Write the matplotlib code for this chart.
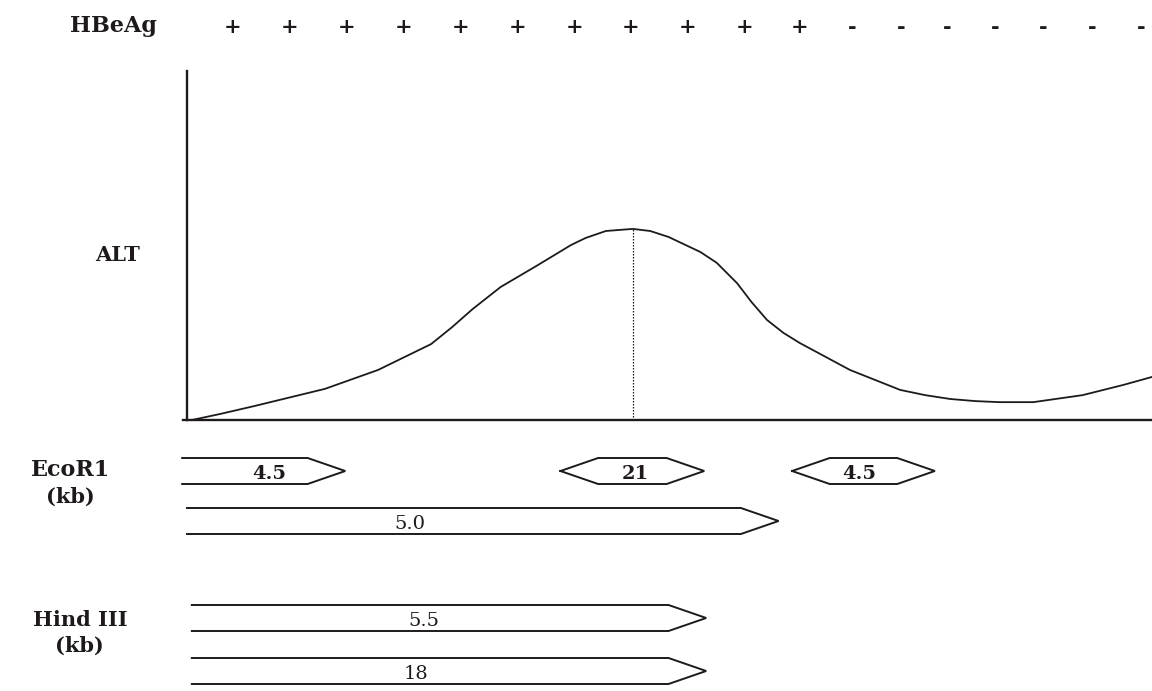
import matplotlib
matplotlib.use("Agg")
import matplotlib.pyplot as plt

# ALT course over time (arbitrary units, axis runs 0..100 both ways)
alt_time = [0.5, 3.4, 7.0, 14.3, 19.8, 25.3, 27.5, 29.6, 32.5, 36.2, 39.8, 41.3,
            43.4, 46.2, 48.0, 49.9, 53.2, 54.9, 57.0, 58.5, 60.1, 61.8, 63.5,
            68.7, 73.9, 76.5, 79.1, 81.7, 84.2, 87.7, 92.8, 97.0, 100.0]
alt_level = [0.0, 1.7, 4.0, 8.9, 14.3, 21.7, 26.6, 31.7, 38.0, 44.0, 50.0, 52.0,
             54.0, 54.6, 54.0, 52.3, 48.0, 44.9, 39.1, 33.7, 28.6, 24.9, 22.0,
             14.3, 8.6, 7.1, 6.0, 5.4, 5.1, 5.1, 7.1, 10.0, 12.3]
peak_time = 46.2
peak_level = 54.6

# HBeAg status along the time axis
hbeag_time = [4.7, 10.6, 16.5, 22.4, 28.3, 34.3, 40.2, 46.0, 51.9, 57.8, 63.5,
              68.9, 74.0, 78.8, 83.8, 88.7, 93.8, 98.9]
hbeag_sign = ["+"] * 11 + ["-"] * 7

# restriction fragments (start, end on the time axis, label, label spot)
eco_row1_start = [-0.5, 38.7, 62.7]
eco_row1_end = [16.4, 53.6, 77.5]
eco_row1_label = ["4.5", "21", "4.5"]
eco_row1_label_t = [8.5, 46.5, 69.7]
eco_row1_shape = ["arrow", "hexagon", "hexagon"]
eco_row2_start = [0.0]
eco_row2_end = [61.3]
eco_row2_label = ["5.0"]
eco_row2_label_t = [23.1]
hind_start = [0.5, 0.5]
hind_end = [53.8, 53.8]
hind_label = ["5.5", "18"]
hind_label_t = [24.5, 23.7]

INK = "#1e1a1b"
SERIF = ["DejaVu Serif"]

# page layout: pixel -> axis units
X0, SX = 187.0, 9.65
Y0, SY = 420.0, 3.5


def tx(px):
    return (px - X0) / SX


def ty(py):
    return (Y0 - py) / SY


TIP = 3.9          # arrow tip length in time units
HALF = 13 / SY     # half height of a fragment box


def draw_fragment(ax, start, end, yc, shape, label, label_t, bold):
    top, bot = yc + HALF, yc - HALF
    if shape == "arrow":
        xs = [start, end - TIP, end, end - TIP, start]
        ys = [top, top, yc, bot, bot]
    else:
        xs = [start, start + TIP, end - TIP, end, end - TIP, start + TIP, start]
        ys = [yc, top, top, yc, bot, bot, yc]
    ax.plot(xs, ys, color=INK, lw=1.4, solid_joinstyle="miter")
    ax.text(label_t, yc - 0.8, label, ha="center", va="center", fontsize=14,
            family=SERIF, fontweight="bold" if bold else "normal", color=INK)


fig = plt.figure(figsize=(11.52, 6.91), dpi=100)
ax = fig.add_axes([0, 0, 1, 1])
ax.set_xlim(tx(0), tx(1152))
ax.set_ylim(ty(691), ty(0))
ax.axis("off")

# axes of the ALT plot
ax.plot([0, 0], [0, ty(71)], color=INK, lw=1.7)
ax.plot([tx(183), tx(1152)], [0, 0], color=INK, lw=1.7)

# ALT curve and peak marker
ax.plot(alt_time, alt_level, color=INK, lw=1.3, solid_joinstyle="round")
ax.plot([peak_time, peak_time], [0, peak_level], color=INK, lw=0.9, ls=(0, (1.2, 1.2)))

# labels on the left
lab = dict(ha="center", va="center", family=SERIF, fontweight="bold", color=INK)
ax.text(tx(113), ty(26), "HBeAg", fontsize=16, **lab)
ax.text(tx(118), ty(255), "ALT", fontsize=15, **lab)
ax.text(tx(71), ty(470), "EcoR1", fontsize=16, **lab)
ax.text(tx(70), ty(497), "(kb)", fontsize=15, **lab)
ax.text(tx(80), ty(620), "Hind III", fontsize=15, **lab)
ax.text(tx(79), ty(646), "(kb)", fontsize=15, **lab)

# HBeAg signs
for t, s in zip(hbeag_time, hbeag_sign):
    ax.text(t, ty(27), s, ha="center", va="center", fontsize=15,
            family=SERIF, fontweight="bold", color=INK)

# EcoR1 fragments
for s, e, lb, lt, sh in zip(eco_row1_start, eco_row1_end, eco_row1_label,
                            eco_row1_label_t, eco_row1_shape):
    draw_fragment(ax, s, e, ty(471), sh, lb, lt, True)
for s, e, lb, lt in zip(eco_row2_start, eco_row2_end, eco_row2_label, eco_row2_label_t):
    draw_fragment(ax, s, e, ty(521), "arrow", lb, lt, False)

# Hind III fragments
for s, e, lb, lt, yc in zip(hind_start, hind_end, hind_label, hind_label_t,
                            [ty(618), ty(671)]):
    draw_fragment(ax, s, e, yc, "arrow", lb, lt, False)

fig.savefig("out.png", dpi=100, facecolor="white")
